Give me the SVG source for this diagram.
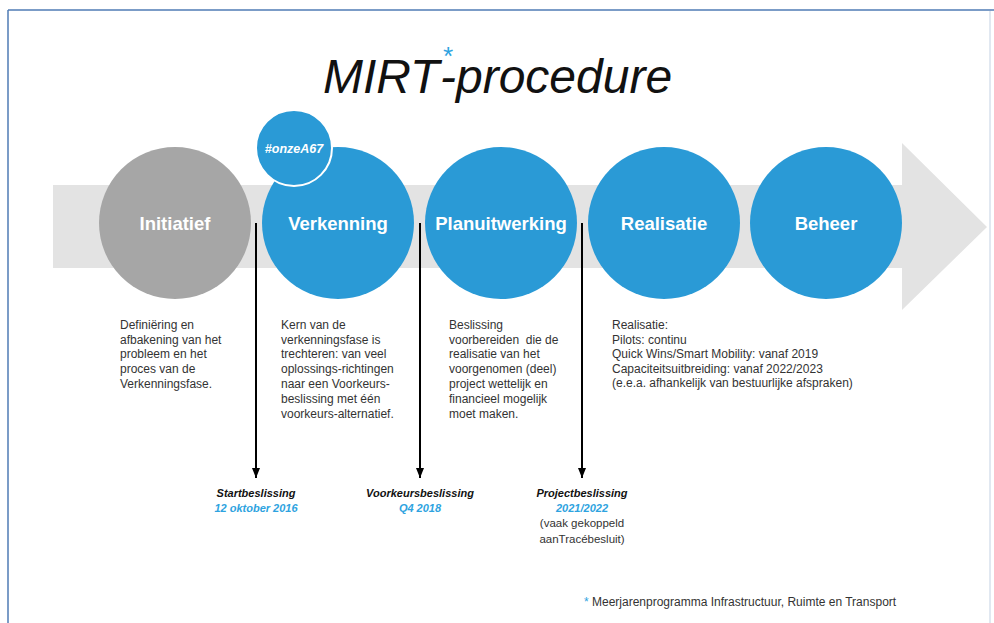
<svg xmlns="http://www.w3.org/2000/svg" width="994" height="623" viewBox="0 0 994 623">
<defs>
<style>
.phase{fill:#2a9ad6}
.lbl{font-family:"Liberation Sans",Arial,sans-serif;font-weight:bold;font-size:18.5px;fill:#fff;text-anchor:middle}
.body{font-family:"Liberation Sans",Arial,sans-serif;font-size:12px;fill:#333}
.dec{font-family:"Liberation Sans",Arial,sans-serif;font-size:11px;font-weight:bold;font-style:italic;text-anchor:middle;fill:#111}
.date{fill:#2ea3e0}
.note{font-family:"Liberation Sans",Arial,sans-serif;font-size:11.5px;fill:#333;text-anchor:middle}
.conn{stroke:#000;stroke-width:2;fill:none}
</style>
<marker id="ah" markerWidth="10" markerHeight="8" refX="10" refY="4" orient="auto" markerUnits="userSpaceOnUse" viewBox="0 0 10 8">
<path d="M0,0 L10,4 L0,8 Z" fill="#000"/>
</marker>
</defs>
<rect width="994" height="623" fill="#fff"/>
<g id="frame">
<line x1="8" y1="10" x2="994" y2="10" stroke="#4f7bb5" stroke-width="1.5"/>
<line x1="8" y1="10" x2="8" y2="623" stroke="#4f7bb5" stroke-width="1.5"/>
<line x1="990" y1="11" x2="990" y2="623" stroke="#c3d1e2" stroke-width="1"/>
</g>
<g id="title">
<text x="323" y="93" font-family="'Liberation Sans',Arial,sans-serif" font-size="48" font-style="italic" fill="#111">MIRT<tspan x="447" dy="-28" font-size="26" fill="#2ea3e0" text-anchor="middle">*</tspan><tspan x="440" dy="28">-procedure</tspan></text>
</g>
<g id="band">
<polygon points="53,185 902,185 902,143 987,227 902,310 902,268 53,268" fill="#e3e3e3"/>
</g>
<g id="initiatief">
<circle cx="175" cy="223" r="76" fill="#a6a6a6"/>
<text class="lbl" x="175" y="230">Initiatief</text>
</g>
<g id="verkenning">
<circle class="phase" cx="338" cy="223" r="76"/>
<text class="lbl" x="338" y="230">Verkenning</text>
</g>
<g id="onzeA67">
<circle class="phase" cx="294" cy="148" r="38" stroke="#fff" stroke-width="2"/>
<text x="294" y="153" font-family="'Liberation Sans',Arial,sans-serif" font-size="12.5" font-weight="bold" font-style="italic" fill="#fff" text-anchor="middle">#onzeA67</text>
</g>
<g id="planuitwerking">
<circle class="phase" cx="501" cy="223" r="76"/>
<text class="lbl" x="501" y="230">Planuitwerking</text>
</g>
<g id="realisatie">
<circle class="phase" cx="664" cy="223" r="76"/>
<text class="lbl" x="664" y="230">Realisatie</text>
</g>
<g id="beheer">
<circle class="phase" cx="826" cy="223" r="76"/>
<text class="lbl" x="826" y="230">Beheer</text>
</g>
<g id="connectors">
<line class="conn" x1="256" y1="223" x2="256" y2="478" marker-end="url(#ah)"/>
<line class="conn" x1="420" y1="223" x2="420" y2="478" marker-end="url(#ah)"/>
<line class="conn" x1="582" y1="223" x2="582" y2="478" marker-end="url(#ah)"/>
</g>
<g id="desc-initiatief">
<text class="body" x="120" y="329">Definiëring en</text>
<text class="body" x="120" y="344">afbakening van het</text>
<text class="body" x="120" y="358">probleem en het</text>
<text class="body" x="120" y="373">proces van de</text>
<text class="body" x="120" y="388">Verkenningsfase.</text>
</g>
<g id="desc-verkenning">
<text class="body" x="281" y="329">Kern van de</text>
<text class="body" x="281" y="344">verkenningsfase is</text>
<text class="body" x="281" y="358">trechteren: van veel</text>
<text class="body" x="281" y="373">oplossings-richtingen</text>
<text class="body" x="281" y="388">naar een Voorkeurs-</text>
<text class="body" x="281" y="403">beslissing met één</text>
<text class="body" x="281" y="418">voorkeurs-alternatief.</text>
</g>
<g id="desc-planuitwerking">
<text class="body" x="449" y="329">Beslissing</text>
<text class="body" x="449" y="344" xml:space="preserve">voorbereiden  die de</text>
<text class="body" x="449" y="358">realisatie van het</text>
<text class="body" x="449" y="373">voorgenomen (deel)</text>
<text class="body" x="449" y="388">project wettelijk en</text>
<text class="body" x="449" y="403">financieel mogelijk</text>
<text class="body" x="449" y="418">moet maken.</text>
</g>
<g id="desc-realisatie">
<text class="body" x="612" y="329">Realisatie:</text>
<text class="body" x="612" y="344">Pilots: continu</text>
<text class="body" x="612" y="358">Quick Wins/Smart Mobility: vanaf 2019</text>
<text class="body" x="612" y="373">Capaciteitsuitbreiding: vanaf 2022/2023</text>
<text class="body" x="612" y="387">(e.e.a. afhankelijk van bestuurlijke afspraken)</text>
</g>
<g id="startbeslissing">
<text class="dec" x="256" y="497">Startbeslissing</text>
<text class="dec date" x="256" y="512">12 oktober 2016</text>
</g>
<g id="voorkeursbeslissing">
<text class="dec" x="420" y="497">Voorkeursbeslissing</text>
<text class="dec date" x="420" y="512">Q4 2018</text>
</g>
<g id="projectbeslissing">
<text class="dec" x="582" y="497">Projectbeslissing</text>
<text class="dec date" x="582" y="512">2021/2022</text>
<text class="note" x="582" y="527">(vaak gekoppeld</text>
<text class="note" x="582" y="543">aanTracébesluit)</text>
</g>
<g id="footnote">
<text x="584" y="606" font-family="'Liberation Sans',Arial,sans-serif" font-size="12" fill="#333"><tspan fill="#2ea3e0">*</tspan> Meerjarenprogramma Infrastructuur, Ruimte en Transport</text>
</g>
</svg>
